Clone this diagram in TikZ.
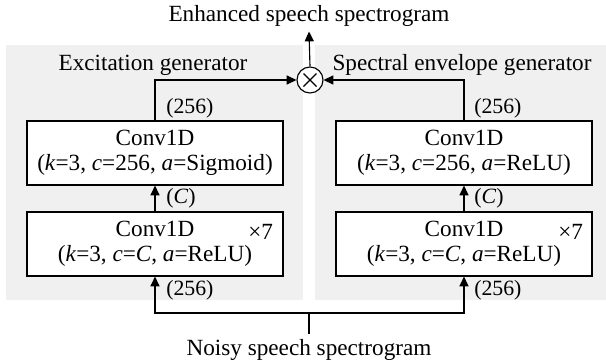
\documentclass[tikz,border=0pt]{standalone}
\usepackage{fontspec}
\setmainfont{Liberation Serif}
\usepackage{tikz}
\usetikzlibrary{arrows.meta,positioning,calc}
\definecolor{panelgray}{RGB}{240,240,240}
\tikzstyle{panel} = [fill=panelgray, draw=none]
\tikzstyle{block} = [rectangle, draw, fill=white, thick, align=center,
    minimum width=6.4cm, minimum height=1.6cm, inner sep=0pt]
\tikzstyle{line} = [draw, thick, -{Triangle[length=7pt,width=6.5pt]}]
\tikzstyle{dim} = [anchor=west, inner sep=0pt, font=\fontsize{15.5}{17}\selectfont]

\begin{document}
\begin{tikzpicture}[x=0.025cm, y=-0.025cm,
  font=\fontsize{16.5}{17.5}\selectfont]
\useasboundingbox (0,0) rectangle (606,363);

% Panels
\fill[panel] (6,45) rectangle (303,300);
\fill[panel] (315,45) rectangle (606,300);
\node (titleL) at (153,65) {Excitation generator};
\node (titleR) at (462,65) {Spectral envelope generator};

% Excitation branch
\node[block] (convL2) at (155,244) {Conv1D\\(\textit{k}=3, \textit{c}=\textit{C}, \textit{a}=ReLU)};
\node[block] (convL1) at (155,153) {Conv1D\\(\textit{k}=3, \textit{c}=256, \textit{a}=Sigmoid)};
\node[anchor=east] (repL) at (278,232) {×7};

% Spectral envelope branch
\node[block] (convR2) at (464,244) {Conv1D\\(\textit{k}=3, \textit{c}=\textit{C}, \textit{a}=ReLU)};
\node[block] (convR1) at (464,153) {Conv1D\\(\textit{k}=3, \textit{c}=256, \textit{a}=ReLU)};
\node[anchor=east] (repR) at (588,232) {×7};

% Multiply node
\node[circle, draw, thick, fill=white, minimum size=26*0.025cm, inner sep=0pt] (mul) at (310,80) {};
\draw[thick] ($(mul)+(-6.5,-6.5)$) -- ($(mul)+(6.5,6.5)$) ($(mul)+(-6.5,6.5)$) -- ($(mul)+(6.5,-6.5)$);

% Input and output
\node (noisy) at (309,350) {Noisy speech spectrogram};
\node (enh) at (309,16) {Enhanced speech spectrogram};
\coordinate (split) at (309,313);

% Arrows
\draw[thick] (noisy.north) -- (split);
\draw[line] (split) -| (convL2.south);
\draw[line] (split) -| (convR2.south);
\draw[line] (convL2) -- (convL1);
\draw[line] (convR2) -- (convR1);
\draw[line] (convL1.north) |- (mul.west);
\draw[line] (convR1.north) |- (mul.east);
\draw[line] (mul.north) -- (enh.south);

% Channel labels
\node[dim] (cL0) at (166,290) {(256)};
\node[dim] (cL1) at (166,198) {(\textit{C})};
\node[dim] (cL2) at (166,108) {(256)};
\node[dim] (cR0) at (474,290) {(256)};
\node[dim] (cR1) at (474,198) {(\textit{C})};
\node[dim] (cR2) at (474,108) {(256)};

\end{tikzpicture}
\end{document}
